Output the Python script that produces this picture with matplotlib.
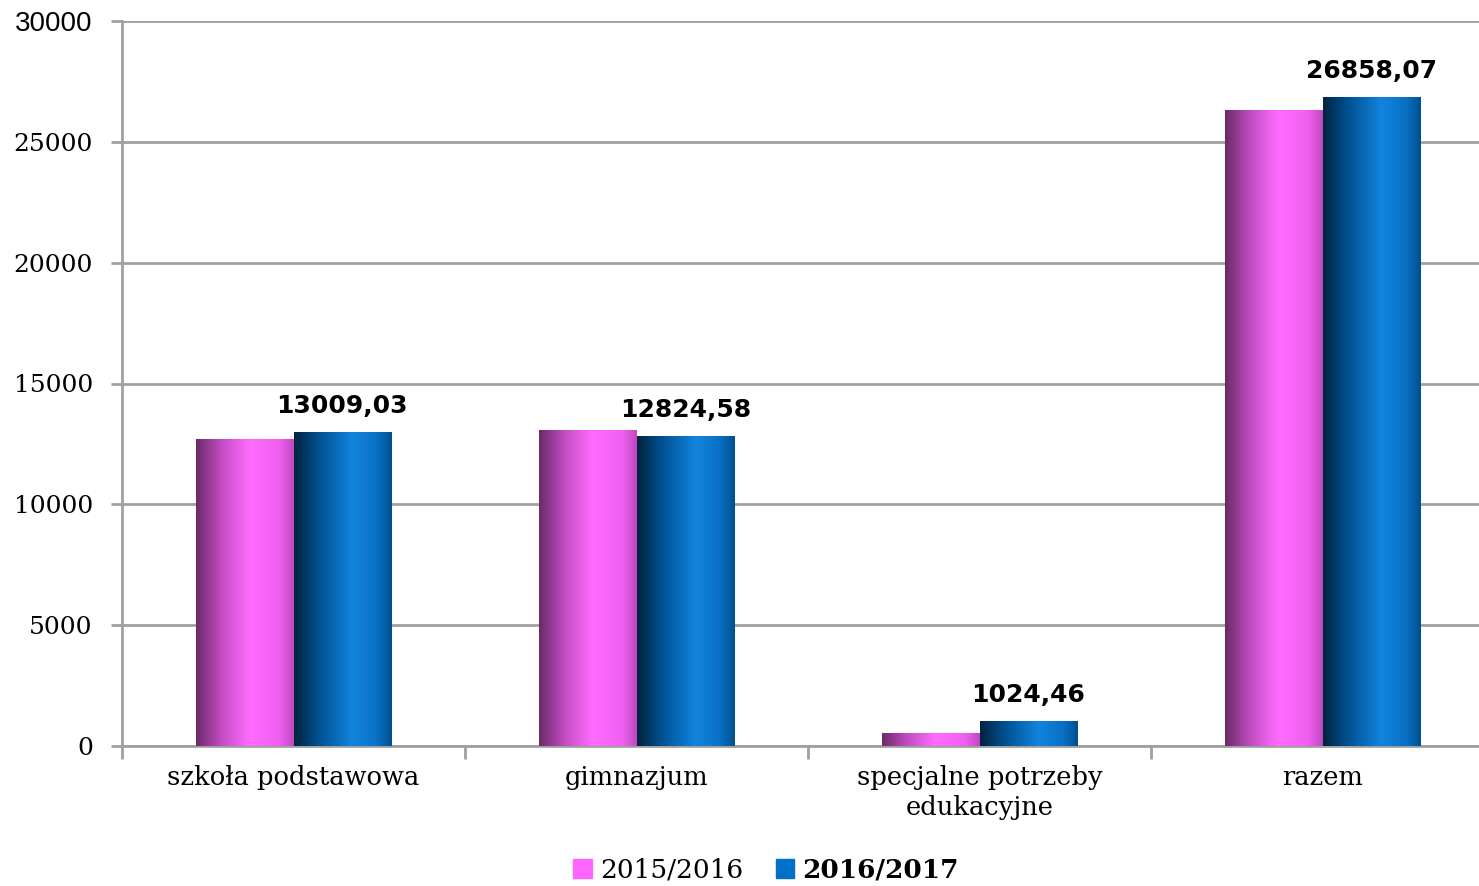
import matplotlib
matplotlib.use("Agg")
import matplotlib.pyplot as plt
import numpy as np
from matplotlib.colors import LinearSegmentedColormap
from matplotlib.patches import Rectangle

categories = ["szkoła podstawowa", "gimnazjum", "specjalne potrzeby\nedukacyjne", "razem"]
series_names = ["2015/2016", "2016/2017"]
values_2015 = [12700, 13080, 520, 26300]
values_2016 = [13009.03, 12824.58, 1024.46, 26858.07]
labels_2016 = ["13009,03", "12824,58", "1024,46", "26858,07"]
yticks = [0, 5000, 10000, 15000, 20000, 25000, 30000]

pink_cmap = LinearSegmentedColormap.from_list(
    "pink", [(0.0, "#6a2a66"), (0.25, "#c04cc0"), (0.55, "#ff6cff"), (0.85, "#f060f0"), (1.0, "#c048c0")])
blue_cmap = LinearSegmentedColormap.from_list(
    "blue", [(0.0, "#00243f"), (0.25, "#005090"), (0.6, "#1284de"), (0.85, "#0a70c4"), (1.0, "#00508e")])

fig = plt.figure(figsize=(14.79, 8.86), dpi=100)
ax = fig.add_axes([122/1479, 1-746/886, 1-122/1479, (746-21)/886])

x = np.arange(len(categories))
w = 0.284
grad = np.linspace(0, 1, 256).reshape(1, -1)

def grad_bars(xs, vals, cmap):
    bars = ax.bar(xs, vals, width=w, align="edge", color="none", edgecolor="none", zorder=3)
    for b in bars:
        x0, y0 = b.get_x(), b.get_y()
        bw, bh = b.get_width(), b.get_height()
        im = ax.imshow(grad, cmap=cmap, aspect="auto", extent=[x0, x0 + bw, y0, y0 + bh],
                       zorder=3, interpolation="bicubic")
        im.set_clip_path(b)
    return bars

grad_bars(x - w, values_2015, pink_cmap)
bars2 = grad_bars(x, values_2016, blue_cmap)

for b, lab in zip(bars2, labels_2016):
    ax.annotate(lab, (b.get_x() + b.get_width()/2, b.get_height()), xytext=(0, 10),
                textcoords="offset points", ha="center", va="bottom",
                fontsize=18, fontweight="bold", family="DejaVu Sans", zorder=5)

ax.set_yticks(yticks)
ax.set_yticklabels([str(t) for t in yticks], family="DejaVu Serif", fontsize=18)
ax.yaxis.grid(True, color="#a0a0a0", linewidth=2, zorder=0)
ax.set_axisbelow(True)

ax.set_xticks(x)
ax.set_xticklabels(categories, family="DejaVu Serif", fontsize=18.5, linespacing=1.25)
ax.tick_params(axis="x", length=0, pad=14)
ax.set_xticks(np.arange(-0.5, 3.0, 1.0), minor=True)
ax.tick_params(axis="x", which="minor", length=9, width=2, color="#a0a0a0")
ax.tick_params(axis="y", length=8, width=2, color="#a0a0a0", pad=13)

ax.set_xlim(-0.5, 3.456)
ax.set_ylim(0, 30000)

for s in ["top", "right"]:
    ax.spines[s].set_visible(False)
for s in ["left", "bottom"]:
    ax.spines[s].set_color("#a0a0a0")
    ax.spines[s].set_linewidth(2)

# legend
handles = [Rectangle((0, 0), 1, 1, color="#ff66ff"), Rectangle((0, 0), 1, 1, color="#0070c8")]
leg = fig.legend(handles, series_names, loc="center", bbox_to_anchor=(766/1479, 1-870/886),
                 ncol=2, frameon=False, handlelength=0.7, handleheight=0.7, handletextpad=0.3,
                 columnspacing=1.25, prop={"family": "DejaVu Serif", "size": 19})
leg.get_texts()[1].set_fontweight("bold")

fig.canvas.draw()
top_tick = ax.yaxis.get_major_ticks()[-1]
top_tick.label1.set_fontfamily("Liberation Sans")
top_tick.label1.set_fontsize(20)

fig.savefig("out.png", dpi=100)
